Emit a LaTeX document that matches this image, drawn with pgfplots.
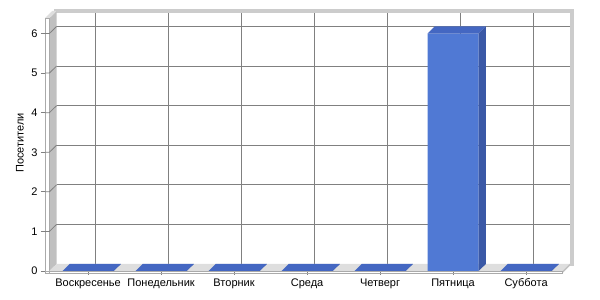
\documentclass[border=0pt]{standalone}
\usepackage{fontspec}
\setmainfont{Liberation Sans}
\usepackage{pgfplots}
\usepackage{pgfplotstable}
\pgfplotsset{compat=1.18}

\definecolor{barfront}{RGB}{80,121,212}
\definecolor{bartop}{RGB}{68,103,194}
\definecolor{barside}{RGB}{58,88,166}
\definecolor{wallgray}{RGB}{192,192,192}
\definecolor{bandgray}{RGB}{204,204,204}
\definecolor{floorgray}{RGB}{222,222,222}
\definecolor{gridgray}{RGB}{128,128,128}
\definecolor{edgegray}{RGB}{170,170,170}

\pgfplotstableread{
idx visits
0 0
1 0
2 0
3 0
4 0
5 6
6 0
}\visits

% top face of a bar: 0.7 units wide (73pt per category), depth (7.3pt, 7.1pt)
\pgfdeclareplotmark{bartop}{%
  \pgfpathmoveto{\pgfqpoint{-25.55pt}{0pt}}%
  \pgfpathlineto{\pgfqpoint{25.55pt}{0pt}}%
  \pgfpathlineto{\pgfqpoint{32.85pt}{7.1pt}}%
  \pgfpathlineto{\pgfqpoint{-18.25pt}{7.1pt}}%
  \pgfpathclose\pgfusepathqfill}
% right side face of a bar, down to the floor (39.58pt per unit)
\pgfdeclareplotmark{barside}{%
  \pgfpathmoveto{\pgfqpoint{25.55pt}{0pt}}%
  \pgfpathlineto{\pgfqpoint{32.85pt}{7.1pt}}%
  \pgfpathlineto{\pgfpoint{32.85pt}{7.1pt-\barval*39.58pt}}%
  \pgfpathlineto{\pgfpoint{25.55pt}{-\barval*39.58pt}}%
  \pgfpathclose\pgfusepathqfill}

\begin{document}
\begin{tikzpicture}
\path[use as bounding box] (0,0) rectangle (600pt,300pt);
\begin{axis}[
  at={(45pt,29pt)}, anchor=south west,
  scale only axis,
  width=517.57pt, height=237.48pt,
  xmin=-0.59, xmax=6.5, ymin=0, ymax=6,
  clip=false,
  axis line style={draw=none},
  tick pos=left,
  tick align=outside,
  major tick length=4pt,
  tick style={gridgray, line width=0.8pt},
  xtick={0,...,6},
  xticklabels={Воскресенье,Понедельник,Вторник,Среда,Четверг,Пятница,Суббота},
  ytick={0,...,6},
  tick label style={font=\fontsize{11}{13}\selectfont},
  /pgf/number format/assume math mode=true,
  ylabel={Посетители},
  every axis y label/.style={at={(axis description cs:0,0.539)}, xshift=-25pt,
    rotate=90, anchor=center, font=\fontsize{11}{13}\selectfont},
]
% back wall grid
\draw[gridgray, line width=0.8pt]
  (-0.43,1.18) -- (6.6,1.18)  (-0.43,2.18) -- (6.6,2.18)
  (-0.43,3.18) -- (6.6,3.18)  (-0.43,4.18) -- (6.6,4.18)
  (-0.43,5.18) -- (6.6,5.18)  (-0.43,6.18) -- (6.6,6.18)
  (0.1,0.18) -- (0.1,6.53)  (1.1,0.18) -- (1.1,6.53)
  (2.1,0.18) -- (2.1,6.53)  (3.1,0.18) -- (3.1,6.53)
  (4.1,0.18) -- (4.1,6.53)  (5.1,0.18) -- (5.1,6.53)
  (6.1,0.18) -- (6.1,6.53);
% top and right border of the back wall
\fill[bandgray] (-0.47,6.53) rectangle (6.655,6.61);
\fill[bandgray] (6.6,0.12) rectangle (6.655,6.61);
% left wall: inner side, top and front edge
\fill[wallgray] (-0.53,0) -- (-0.53,6.39) -- (-0.43,6.57) -- (-0.43,0.18) -- cycle;
\fill[floorgray] (-0.59,6.39) -- (-0.53,6.39) -- (-0.43,6.57) -- (-0.49,6.57) -- cycle;
\draw[edgegray, line width=0.6pt] (-0.59,-0.05) rectangle (-0.53,6.39);
\draw[gridgray, line width=0.8pt]
  (-0.59,1) -- (-0.53,1) -- (-0.43,1.18)
  (-0.59,2) -- (-0.53,2) -- (-0.43,2.18)
  (-0.59,3) -- (-0.53,3) -- (-0.43,3.18)
  (-0.59,4) -- (-0.53,4) -- (-0.43,4.18)
  (-0.59,5) -- (-0.53,5) -- (-0.43,5.18)
  (-0.59,6) -- (-0.53,6) -- (-0.43,6.18);
% floor
\fill[floorgray] (-0.53,0) -- (6.5,0) -- (6.6,0.18) -- (-0.43,0.18) -- cycle;
\fill[wallgray] (6.5,-0.05) -- (6.5,0) -- (6.6,0.18) -- (6.6,0.13) -- cycle;
\draw[edgegray, line width=0.6pt] (-0.59,-0.05) rectangle (6.5,0);
% bars: front faces, top faces, side faces
\addplot[ybar, bar width=0.7, fill=barfront, draw=none]
  table[x=idx, y=visits] {\visits};
\addplot[only marks, mark=bartop, mark options={fill=bartop, draw=none}]
  table[x=idx, y=visits] {\visits};
\addplot[only marks, mark=barside, mark options={fill=barside, draw=none},
  visualization depends on={rawy \as \barval}]
  table[x=idx, y=visits] {\visits};
\end{axis}
\end{tikzpicture}
\end{document}
